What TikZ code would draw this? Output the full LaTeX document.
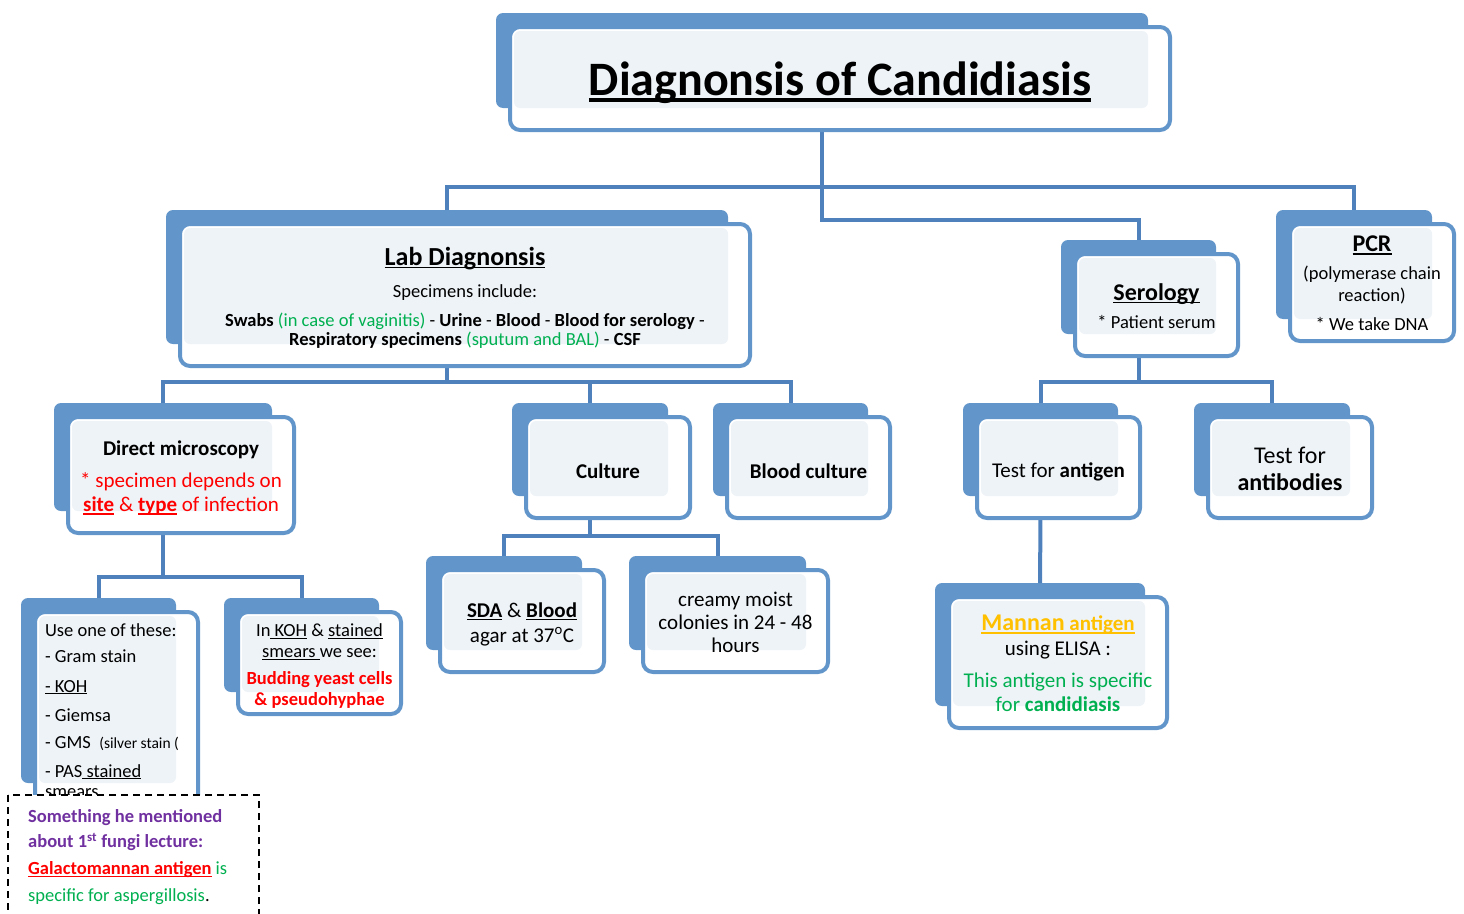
\documentclass[tikz,border=0pt]{standalone}
\usepackage{fontspec}
\setmainfont{Carlito}
\pgfdeclarelayer{back}
\pgfsetlayers{back,main}
\definecolor{boxblue}{RGB}{98,150,202}
\definecolor{linkblue}{RGB}{79,129,189}
\definecolor{paleblue}{RGB}{238,243,248}
\definecolor{txtgreen}{RGB}{0,176,80}
\definecolor{txtred}{RGB}{255,0,0}
\definecolor{txtpurple}{RGB}{112,48,160}
\definecolor{txtorange}{RGB}{255,192,0}
% thick underline as in the slides
\newcommand\undl[1]{\setbox0\hbox{#1}\rlap{\rule[-0.13em]{\wd0}{0.065em}}\box0\relax}
\tikzset{
  box/.style={draw=boxblue, line width=4pt, rounded corners=10pt, fill=white,
    outer sep=0pt, inner sep=2pt,
    path picture={\fill[paleblue, rounded corners=6pt]
      ([shift={(4pt,-4pt)}]path picture bounding box.north west) rectangle
      ([shift={(-22pt,22pt)}]path picture bounding box.south east);},
    % text sits a little low in the boxes
    execute at begin node={\setbox1\hbox\bgroup},
    execute at end node={\egroup\raisebox{-4pt}[\ht1][\dp1]{\copy1}}},
  link/.style={draw=linkblue, line width=4pt},
  notebox/.style={draw=black, line width=1.6pt, dash pattern=on 7pt off 5pt, fill=white}
}
\begin{document}
\begin{tikzpicture}[x=1pt,y=-1pt]
  \useasboundingbox (0,0) rectangle (1464,913);
  % top of the tree
  \node[box, minimum width=660pt, minimum height=103pt] (title) at (840,78.5)
    {\fontsize{48}{56}\selectfont\bfseries\undl{Diagnonsis of Candidiasis}};
  \node[box, minimum width=570pt, minimum height=142pt,
        font=\fontsize{18.5}{19}\selectfont] (lab) at (465,295) {%
    \begin{tabular}{@{}c@{}}
      {\fontsize{26}{30}\selectfont\bfseries\undl{Lab Diagnonsis}}\\[13pt]
      Specimens include:\\[10pt]
      \textbf{Swabs} \textcolor{txtgreen}{(in case of vaginitis)} - \textbf{Urine} - \textbf{Blood} - \textbf{Blood for serology} -\\
      \textbf{Respiratory specimens} \textcolor{txtgreen}{(sputum and BAL)} - \textbf{CSF}
    \end{tabular}};
  \node[box, minimum width=163pt, minimum height=102pt,
        font=\fontsize{18.5}{22}\selectfont] (sero) at (1156.5,305) {%
    \begin{tabular}{@{}c@{}}
      {\fontsize{24}{28}\selectfont\bfseries\undl{Serology}}\\[6pt]
      * Patient serum
    \end{tabular}};
  \node[box, minimum width=164pt, minimum height=117pt,
        font=\fontsize{18.5}{22}\selectfont] (pcr) at (1372,282.5) {%
    \begin{tabular}{@{}c@{}}
      {\fontsize{24}{28}\selectfont\bfseries\undl{PCR}}\\[6pt]
      (polymerase chain\\
      reaction)\\[7pt]
      * We take DNA
    \end{tabular}};
  % second row
  \node[box, minimum width=226pt, minimum height=116pt,
        font=\fontsize{21}{24}\selectfont] (direct) at (181,475) {%
    \begin{tabular}{@{}c@{}}
      \textbf{Direct microscopy}\\[8pt]
      \textcolor{txtred}{* specimen depends on}\\
      \textcolor{txtred}{\textbf{\undl{site}} \& \textbf{\undl{type}} of infection}
    \end{tabular}};
  \node[box, minimum width=164pt, minimum height=101pt,
        font=\fontsize{21}{24}\selectfont] (culture) at (608,467.5) {\textbf{Culture}};
  \node[box, minimum width=163pt, minimum height=101pt,
        font=\fontsize{21}{24}\selectfont] (bloodc) at (808.5,467.5) {\textbf{Blood culture}};
  \node[box, minimum width=163pt, minimum height=101pt,
        font=\fontsize{21}{24}\selectfont] (antigen) at (1058.5,467.5) {Test for \textbf{antigen}};
  \node[box, minimum width=164pt, minimum height=101pt,
        font=\fontsize{24}{27}\selectfont] (antibody) at (1290,467.5) {%
    \begin{tabular}{@{}c@{}}
      Test for\\
      \textbf{antibodies}
    \end{tabular}};
  % third row
  \node[box, minimum width=164pt, minimum height=102pt,
        font=\fontsize{21}{25}\selectfont] (sda) at (522,621) {%
    \begin{tabular}{@{}c@{}}
      \textbf{\undl{SDA}} \& \textbf{\undl{Blood}}\\
      agar at 37\textsuperscript{o}C
    \end{tabular}};
  \node[box, minimum width=185pt, minimum height=102pt,
        font=\fontsize{21}{23}\selectfont] (creamy) at (735.5,621) {%
    \begin{tabular}{@{}c@{}}
      creamy moist\\
      colonies in 24 - 48\\
      hours
    \end{tabular}};
  \node[box, minimum width=218pt, minimum height=131pt,
        font=\fontsize{21}{24}\selectfont] (mannan) at (1058,662.5) {%
    \begin{tabular}{@{}c@{}}
      \textcolor{txtorange}{\bfseries\undl{{\fontsize{24}{28}\selectfont Mannan} antigen}}\\[1pt]
      using ELISA :\\[8pt]
      \textcolor{txtgreen}{This antigen is specific}\\
      \textcolor{txtgreen}{for \textbf{candidiasis}}
    \end{tabular}};
  \node[box, minimum width=163pt, minimum height=193pt,
        font=\fontsize{18.5}{20}\selectfont] (stains) at (116.5,708.5) {%
    \begin{tabular}{@{}l@{\hspace{9pt}}}
      Use one of these:\\[6pt]
      - Gram stain\\[10pt]
      \undl{- KOH}\\[9pt]
      - Giemsa\\[7pt]
      - GMS\ \ {\fontsize{15.5}{18}\selectfont(silver stain (}\\[9pt]
      - PAS\undl{ stained}\\
      smears
    \end{tabular}};
  \node[box, minimum width=163pt, minimum height=102pt,
        font=\fontsize{18.5}{20}\selectfont] (koh) at (319.5,663) {%
    \begin{tabular}{@{}c@{}}
      In\undl{ KOH} \& \undl{stained}\\[1pt]
      \undl{smears }we see:\\[7pt]
      \textcolor{txtred}{\bfseries Budding yeast cells}\\[1pt]
      \textcolor{txtred}{\bfseries \& pseudohyphae}
    \end{tabular}};
  % side note
  \draw[notebox] (8,795) rectangle (259,940);
  \node[anchor=north west, inner sep=0pt,
        font=\fontsize{18.5}{25}\selectfont] (note) at (28,805) {%
    \begin{tabular}{@{}l@{}}
      \textcolor{txtpurple}{\textbf{Something he mentioned}}\\
      \textcolor{txtpurple}{\textbf{about 1\textsuperscript{st} fungi lecture:}}\\[2pt]
      \textcolor{txtred}{\textbf{\undl{Galactomannan antigen}}} \textcolor{txtgreen}{is}\\[2pt]
      \textcolor{txtgreen}{specific for aspergillosis}.
    \end{tabular}};
  % back plates and connectors
  \begin{pgfonlayer}{back}
    \foreach \b in {title,lab,sero,pcr,direct,culture,bloodc,antigen,antibody,sda,creamy,mannan,stains,koh}{
      \fill[boxblue, rounded corners=7pt] ([shift={(-14pt,14pt)}]\b.north west) rectangle ([shift={(-22pt,22pt)}]\b.south east);
      \coordinate (\b-in) at ([shift={(-18pt,14pt)}]\b.north);
      \coordinate (\b-out) at ([xshift=-18pt]\b.south);
    }
    \draw[link] (lab-in) -- ++(0,-23) -| (pcr-in);
    \draw[link] (title-out) |- ([yshift=20pt]sero-in) -- (sero-in);
    \draw[link] (lab-out) -- ++(0,16);
    \draw[link] (direct-in) -- ++(0,-21) -| (bloodc-in);
    \draw[link] (culture-in) -- ++(0,-21);
    \draw[link] (sero-out) -- ++(0,26);
    \draw[link] (antigen-in) -- ++(0,-21) -| (antibody-in);
    \draw[link] (direct-out) -- ++(0,44);
    \draw[link] (stains-in) -- ++(0,-21) -| (koh-in);
    \draw[link] (culture-out) -- ++(0,18);
    \draw[link] (sda-in) -- ++(0,-20) -| (creamy-in);
    \draw[link] (antigen-out) -- (mannan-in);
  \end{pgfonlayer}
\end{tikzpicture}
\end{document}
